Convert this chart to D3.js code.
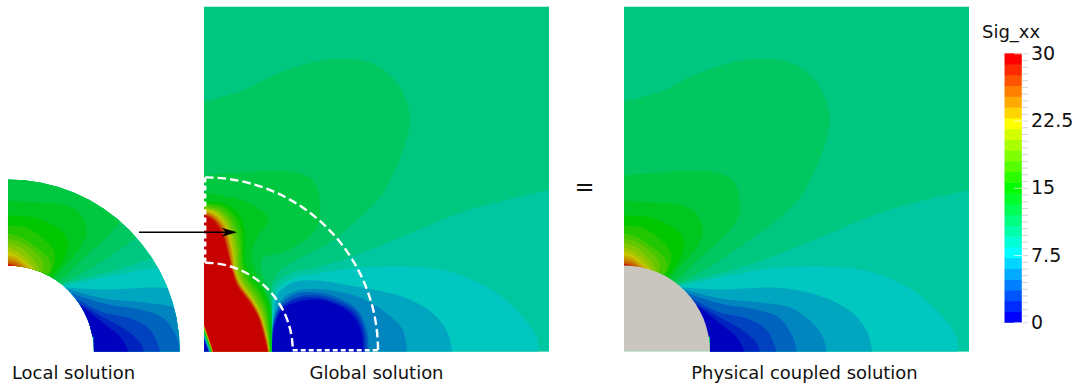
<!DOCTYPE html>
<html><head><meta charset="utf-8">
<script src="https://cdn.jsdelivr.net/npm/d3@7/dist/d3.min.js"></script>
<style>html,body{margin:0;padding:0;background:#fff}svg{display:block}text{font-family:"DejaVu Sans";fill:#111}</style>
</head><body><svg id="c" width="1077" height="389"></svg>
<script>
// ---- data: contour isolines (x right, y down from plate top-left, plate side 345)
const colorStops = ["#0000ff","#00ffff","#00ff00","#ffff00","#ff0000"];
const bandCount = 25;
const colorbarTicks = [0,7.5,15,22.5,30];
const colorbarTickLabels = ["0","7.5","15","22.5","30"];
const panelTitles = ["Local solution","Global solution","Physical coupled solution"];
const holeRadius = 86, localRadius = 172, plateSide = 345;

// contours shared by the local and physical solutions
const upperLevels = [9,10,11,12,13,14,15,16,17,18,19,20,21,22,23,24];
const upperCurves = [
 [[0,95],[39,84],[63,72],[96,59],[139,52],[173,59],[196,81],[206,111],[199,144],[181,184],[176,191],[156,211],[129,231],[96,254],[56,277]],
 [[0,169],[36,166],[73,164],[96,167],[109,174],[116,194],[114,211],[99,231],[76,251],[53,274]],
 [[0,194],[29,196],[59,199],[74,209],[79,224],[74,239],[59,257],[46,272]],
 [[0,209],[26,211],[49,221],[59,232],[59,244],[51,261],[43,271]],
 [[0,219],[18,221],[34,231],[46,244],[46,259],[41,270]],
 [[0,227],[14,231],[29,241],[41,252],[43,262],[38,269]],
 [[0,232],[14,236],[28,246],[36,257],[34,267]],
 [[0,237],[13,241],[24,251],[31,261],[31,266]],
 [[0,241],[11,246],[21,254],[28,264]],
 [[0,245],[9,249],[19,257],[26,263]],
 [[0,249],[8,251],[16,257],[23,262]],
 [[0,252],[8,254],[14,258],[19,262]],
 [[0,254.7],[6,255.5],[11,258],[15,261]],
 [[0,256.7],[5,257.5],[11,260]],
 [[0,257.5],[5,258.5],[8,260]],
 [[0,258.3],[3,258.8],[5,260]]
];
const lowerLevels = [7,6,5,4,3,2,1,0];
const lowerCurves = [
 [[56,277],[129,257],[196,231],[263,204],[347,183]],
 [[56,279],[96,271],[146,262],[203,260],[249,266],[289,284],[316,307],[333,331],[334,346]],
 [[58,281],[96,283],[146,281],[169,283],[203,292],[229,307],[244,327],[248,346]],
 [[61,283],[96,292],[136,296],[166,301],[186,314],[199,331],[203,346]],
 [[64,287],[96,297],[136,304],[156,312],[169,331],[173,346]],
 [[68,292],[96,306],[123,312],[143,324],[153,346]],
 [[70,296],[96,311],[119,324],[133,337],[136,346]],
 [[73,299],[96,317],[113,331],[121,346]]
];

// contours of the global solution
const globalLowerLevels = [7,6,5,4,3,2,1,0];
const globalLowerCurves = [
 [[347,183],[263,204],[196,231],[146,251],[113,261],[86,267],[71,279],[68.5,297],[68.5,346]],
 [[334,346],[333,331],[316,307],[289,284],[249,266],[203,260],[146,262],[113,267],[89,272],[74,282],[69,297],[68,320],[68,346]],
 [[248,346],[244,327],[229,307],[203,292],[169,283],[146,279],[113,274],[89,276],[74,287],[70,304],[68,346]],
 [[203,346],[199,324],[183,307],[156,291],[129,284],[113,282.5],[93,284],[78,293],[70,310],[68,346]],
 [[165,346],[163,324],[154,304],[136,292],[113,286],[93,287],[78,296],[70,313],[68,346]],
 [[163,346],[161,324],[152,305],[134,294],[113,288.5],[95,290],[79,298],[70,316],[68,346]],
 [[161,346],[159,324],[150,306],[132,296],[113,291],[95,292],[79,300],[70,319],[68,346]],
 [[159,346],[157,324],[147,307],[130,297],[113,293],[96,295],[79,302],[70,322],[68,346]]
];
const globalUpperLevels = [9,10,11,12,13,14,15,16,17,18,19,20,21,22,23,24];
const globalUpperCurves = [
 [[0,95],[39,84],[63,72],[96,59],[139,52],[173,59],[196,81],[206,111],[199,144],[181,184],[176,191],[156,211],[129,234],[96,252],[76,264],[68,277],[68,297],[68,346]],
 [[0,169],[36,166],[73,164],[96,167],[109,174],[116,194],[113,221],[96,237],[76,247],[59,251],[57,261],[61,277],[67,297],[67.8,346]],
 [[0,186],[39,194],[61,207],[64,216],[53,231],[48,247],[51,264],[61,284],[67,301],[67.5,346]],
 [[0,195],[21,197],[34,206],[40,220],[41,238],[41,255],[47,268],[59,284],[65,300],[66.2,325],[67,346]],
 [[0,196.5],[19,199.5],[31,209],[37.5,224],[39,240],[39.5,256],[45,270],[57,286],[63.5,302],[65.8,326],[66.6,346]],
 [[0,198],[17,201],[28,211],[34.5,226],[37,241],[37.5,257],[43,272],[55,288],[62,304],[65.3,328],[66.3,346]],
 [[0,199.5],[15,203],[26,213],[32,228],[35,243],[35.5,258],[41,273],[53,290],[60.5,306],[64.7,329],[66,346]],
 [[0,201],[13,204],[24,214.5],[30,229.5],[33,244],[33.5,259],[39,274],[51,292],[59,307],[64,330],[65.5,346]],
 [[0,202],[12,205],[22.5,216],[28,231],[31,245],[32,260],[37.5,275],[50,293],[58,308],[63.5,331],[65.2,346]],
 [[0,203],[10,206],[21,218],[26.5,232],[29,246],[30.5,260],[36,276],[49,294],[57,309],[63,332],[65,346]],
 [[0,204],[10,207.5],[21,219],[26,234],[28.8,248],[30.2,261],[35.5,276],[48.5,294.5],[56.5,309],[62.8,332],[65,346]],
 [[0,205],[10,209],[20.5,221],[25.5,237],[28.5,252],[29.8,262],[35,277],[48,295],[56,310],[62.5,333],[64.8,346]],
 [[0,206],[10,211],[20,223],[25,241],[28,257],[29.3,263],[34.5,277],[47.5,295],[55.5,310],[62.2,333],[64.6,346]],
 [[0,207],[10,212],[19.5,225],[24.5,243],[27.5,257],[29,264],[34,278],[47,296],[55,310],[62,333],[64.4,346]],
 [[0,208],[10,213],[19,226],[24,244],[27,257],[28.5,264],[33.5,278],[46.5,296],[54.5,310],[61.5,334],[64.2,346]],
 [[0,209],[9,214],[18,227],[23,244],[26,257],[28,264],[33,279],[46,297],[54,311],[61,334],[64,346]]
];
// small fan in the bottom-left corner of the global solution
const cornerLevels = [21,18,15,12,9,6,3,0];
const cornerCurves = [
 [[0,318],[9.5,346]],[[0,319.5],[9,346]],[[0,321],[8.5,346]],[[0,323],[8,346]],
 [[0,325],[7.5,346]],[[0,327.5],[7,346]],[[0,330],[6,346]],[[0,332.5],[5,346]]
];

// ---- scales
const x = d3.scaleLinear().domain([0,plateSide]).range([0,plateSide]);
const y = d3.scaleLinear().domain([0,plateSide]).range([6.5,351.5]);
const ramp = d3.scaleLinear().domain(colorStops.map((d,i)=>i/4)).range(colorStops);
const barColor = i => ramp(i/(bandCount-1));
const litColor = i => { const c=d3.rgb(barColor(i)); return d3.rgb(c.r*.78,c.g*.78,c.b*.75).formatHex(); };
const line = d3.line().x(d=>x(d[0])).y(d=>y(d[1])).curve(d3.curveCatmullRom.alpha(.5));
const svg = d3.select("#c");

function polygon(curve, closure){
  const tail = closure.map(p=>`L${x(p[0])},${y(p[1])}`).join("");
  return line(curve)+tail+"Z";
}
function layer(g, levels, curves, closure){
  g.selectAll(null).data(levels).join("path")
   .attr("d",(d,i)=>polygon(curves[i],closure))
   .attr("fill",d=>litColor(d));
}
const upperClose=[[0,300]], lowerClose=[[348,346],[86,346],[86,330],[40,330]];
const cx = x(0), cy = y(plateSide);
const arc = d3.arc().startAngle(0).endAngle(Math.PI/2);

function field(g){
  g.append("rect").attr("x",x(0)).attr("y",y(0)).attr("width",x(plateSide)-x(0)).attr("height",y(plateSide)-y(0)).attr("fill",litColor(8));
  layer(g.append("g"),lowerLevels,lowerCurves,lowerClose);
  layer(g.append("g"),upperLevels,upperCurves,upperClose);
}
const defs = svg.append("defs");
defs.append("clipPath").attr("id","ring").append("path")
  .attr("transform",`translate(${cx},${cy})`)
  .attr("d",arc({innerRadius:holeRadius,outerRadius:localRadius}));
defs.append("clipPath").attr("id","plate").append("rect")
  .attr("x",x(0)).attr("y",y(0)).attr("width",plateSide).attr("height",plateSide);

// local solution
const local = svg.append("g").attr("transform","translate(7.8,0)").append("g").attr("clip-path","url(#ring)");
field(local);

// global solution
const globalG = svg.append("g").attr("transform","translate(204,0)");
const gf = globalG.append("g").attr("clip-path","url(#plate)");
gf.append("rect").attr("x",x(0)).attr("y",y(0)).attr("width",plateSide).attr("height",plateSide).attr("fill",litColor(8));
layer(gf.append("g"),globalLowerLevels,globalLowerCurves,[[348,346]]);
layer(gf.append("g"),globalUpperLevels,globalUpperCurves,[[0,346]]);
layer(gf.append("g"),cornerLevels,cornerCurves,[[0,346]]);

// dashed outline of the local patch
const dashCentre = [1.2,343.7];
const outerR = 172.8, innerR = 87.5;
const dash = globalG.append("g").attr("fill","none").attr("stroke","#fff").attr("stroke-width",2.4);
const quarter = r => `M${x(dashCentre[0])},${y(dashCentre[1]-r)}A${r},${r} 0 0 1 ${x(dashCentre[0]+r)},${y(dashCentre[1])}`;
dash.append("path").attr("d",quarter(outerR)).attr("stroke-dasharray","8.5 4");
dash.append("path").attr("d",quarter(innerR)).attr("stroke-dasharray","8.5 4");
dash.append("path")
  .attr("d",`M${x(dashCentre[0])},${y(dashCentre[1]-outerR)}V${y(dashCentre[1]-innerR)}`)
  .attr("stroke-dasharray","5 3");
dash.append("path")
  .attr("d",`M${x(dashCentre[0]+innerR)},${y(dashCentre[1])}H${x(dashCentre[0]+outerR)}`)
  .attr("stroke-dasharray","5 3");

// physical coupled solution
const phys = svg.append("g").attr("transform","translate(624,0)");
const pf = phys.append("g").attr("clip-path","url(#plate)");
field(pf);
pf.append("path").attr("transform",`translate(${cx},${cy})`)
  .attr("d",arc({innerRadius:0,outerRadius:holeRadius})).attr("fill","#c9c6c0");

// arrow
svg.append("line").attr("x1",139).attr("x2",230).attr("y1",232.3).attr("y2",232.3).attr("stroke","#000").attr("stroke-width",1.6);
svg.append("path").attr("d","M237,232.3L221.5,227.8L226,232.3L221.5,236.8Z").attr("fill","#000");

// titles
const titleX=[73.5,376.5,804.5];
svg.selectAll(".t").data(panelTitles).join("text").attr("class","t")
  .attr("x",(d,i)=>titleX[i]).attr("y",379).attr("text-anchor","middle").attr("font-size",17.95).text(d=>d);
svg.append("text").attr("x",584.5).attr("y",195).attr("text-anchor","middle").attr("font-size",24).text("=");
svg.append("text").attr("x",982).attr("y",38).attr("font-size",18).text("Sig_xx");

// colorbar
const barScale = d3.scaleLinear().domain([0,30]).range([322.3,53.3]);
const bands = d3.range(bandCount);
const bar = svg.append("g").attr("transform","translate(1004.5,0)");
bar.selectAll("rect").data(bands).join("rect")
  .attr("x",0).attr("width",17.3)
  .attr("y",i=>barScale((i+1)*30/bandCount))
  .attr("height",i=>barScale(i*30/bandCount)-barScale((i+1)*30/bandCount)+.5)
  .attr("fill",barColor);
const minor = svg.append("g").attr("transform","translate(1021.8,0)")
  .call(d3.axisRight(barScale).tickValues(d3.range(41).map(i=>i*.75)).tickSize(6).tickFormat(""));
minor.select(".domain").remove();
minor.selectAll("line").attr("stroke","#d4d4d4").attr("stroke-width",1);
const major = svg.append("g").attr("transform","translate(1014,0)")
  .call(d3.axisRight(barScale).tickValues(colorbarTicks).tickSize(10).tickPadding(7).tickFormat((d,i)=>colorbarTickLabels[i]));
major.select(".domain").remove();
major.selectAll("line").attr("stroke","#fff").attr("stroke-opacity",.7);
major.selectAll("text").attr("font-size",19).attr("font-family","DejaVu Sans").attr("fill","#111");
</script></body></html>
